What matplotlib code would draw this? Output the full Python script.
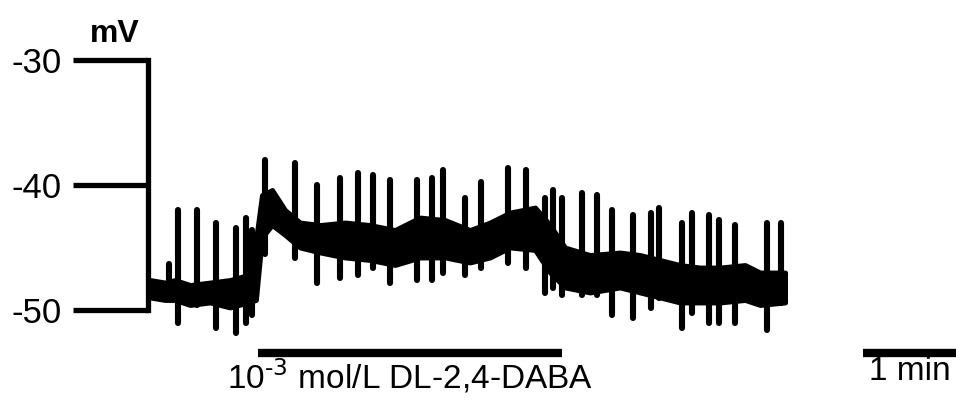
import matplotlib
matplotlib.use("Agg")
import matplotlib.pyplot as plt

plt.rcParams['font.family'] = ['Liberation Sans', 'DejaVu Sans']

# trace envelope (time in s, membrane potential in mV)
base_t = [0, 9.5, 15.8, 25.3, 37.9, 50.5, 61.9, 66.9, 70.7, 77.1, 85.3, 94.7,
          107.4, 123.2, 138.9, 154.7, 170.5, 186.3, 202.1, 214.7, 227.4, 243.2,
          252.6, 262.1, 277.9, 296.8, 309.5, 322.1, 334.7, 347.4, 360.0, 375.8,
          385.3, 401.1]
base_hi = [-47.6, -47.8, -47.6, -48.0, -47.8, -47.6, -47.2, -44.4, -40.8, -40.4,
           -42.0, -43.0, -43.2, -43.0, -43.2, -43.6, -42.6, -42.8, -43.6, -43.0,
           -42.2, -41.8, -43.2, -45.0, -45.6, -45.4, -45.6, -46.0, -46.4, -46.6,
           -46.6, -46.4, -47.0, -47.0]
base_lo = [-49.0, -49.2, -49.2, -49.6, -49.4, -49.8, -49.4, -49.2, -44.2, -43.2,
           -44.0, -45.0, -45.4, -45.8, -46.0, -46.4, -45.8, -45.8, -46.2, -45.8,
           -45.0, -45.2, -47.0, -48.2, -48.6, -48.2, -48.6, -49.0, -49.4, -49.4,
           -49.4, -49.2, -49.6, -49.4]

# spikes: time, peak, undershoot
spike_t = [12.0, 17.7, 29.7, 41.7, 54.3, 60.6, 64.5, 72.6, 91.6, 105.5, 120.0,
           131.4, 140.8, 151.6, 168.6, 178.1, 185.1, 198.9, 209.1, 226.1, 237.5,
           249.5, 254.5, 260.2, 272.8, 282.3, 291.8, 305.1, 316.4, 321.5, 336.0,
           342.3, 353.1, 359.4, 369.5, 389.7, 398.5]
spike_hi = [-46.3, -42.0, -42.0, -43.0, -43.4, -42.6, -43.6, -38.0, -38.2, -40.0,
            -39.4, -39.0, -39.2, -39.6, -39.6, -39.4, -38.8, -41.0, -39.8, -38.6,
            -38.8, -41.0, -40.4, -41.0, -40.6, -40.8, -42.0, -42.4, -42.2, -41.8,
            -43.0, -42.2, -42.4, -42.8, -43.2, -43.0, -43.0]
spike_lo = [-48.5, -51.0, -49.6, -51.4, -51.8, -51.0, -50.4, -45.5, -45.8, -47.8,
            -47.4, -47.2, -46.6, -47.8, -47.6, -47.6, -47.0, -47.2, -46.6, -46.2,
            -46.6, -48.6, -48.2, -48.8, -48.8, -48.8, -50.4, -50.6, -49.8, -49.0,
            -51.4, -50.2, -51.0, -51.0, -51.0, -51.6, -49.4]

drug_on, drug_off = 68.2, 260.2
drug_label = r'10$^{\text{-3}}$ mol/L DL-2,4-DABA'
scale_start, scale_len = 450.0, 60.0
yticks = [-30, -40, -50]

px_per_s = 95 / 60.0
px_per_mv = 12.5

fig = plt.figure(figsize=(9.56, 4.0), dpi=100)
ax = fig.add_axes([0, 0, 1, 1])
ax.set_xlim(-150 / px_per_s, 806 / px_per_s)
ax.set_ylim(-30 - 340 / px_per_mv, -30 + 60 / px_per_mv)

# trace
ax.fill_between(base_t, base_lo, base_hi, color='black', lw=3.5)
ax.vlines(spike_t, spike_lo, spike_hi, color='black', lw=4.4, capstyle='round')

# y axis
for s in ['top', 'right', 'bottom']:
    ax.spines[s].set_visible(False)
ax.spines['left'].set_position(('data', -1.3))
ax.spines['left'].set_bounds(-50, -30)
ax.spines['left'].set_linewidth(3.8)
ax.set_yticks(yticks)
ax.set_yticklabels([str(v) for v in yticks])
ax.tick_params(axis='y', direction='out', length=54, width=3.8, pad=8,
               labelsize=25)
ax.set_xticks([])
ax.text(-6.3, -29.1, 'mV', fontsize=23, fontweight='bold',
        ha='right', va='bottom')

# drug bar and time scale
ax.plot([drug_on, drug_off], [-53.4, -53.4], color='black', lw=6,
        solid_capstyle='butt')
ax.text((drug_on + drug_off) / 2, -53.7, drug_label, fontsize=24,
        ha='center', va='top')
ax.plot([scale_start, scale_start + scale_len], [-53.4, -53.4], color='black',
        lw=6, solid_capstyle='butt')
ax.text(scale_start + scale_len / 2, -53.7, '1 min', fontsize=24,
        ha='center', va='top')

fig.savefig('out.png', dpi=100)
